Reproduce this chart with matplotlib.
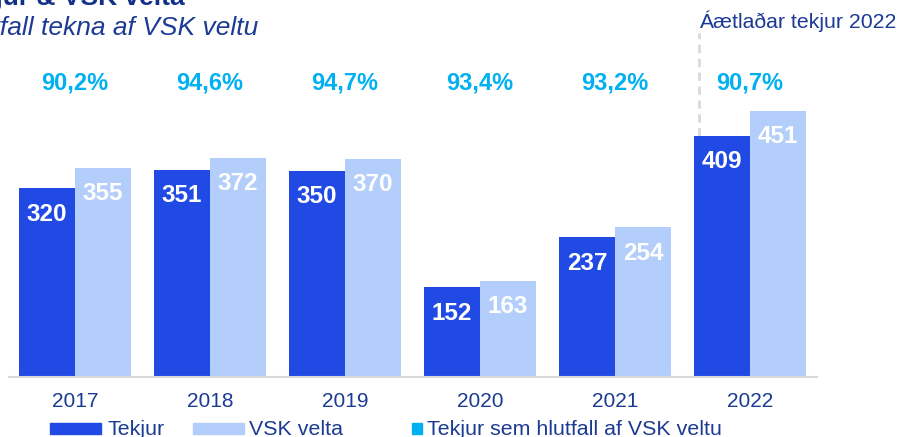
import matplotlib.pyplot as plt
from matplotlib.patches import Rectangle

plt.rcParams['font.family'] = ['Liberation Sans', 'DejaVu Sans']

# data
years = ['2017', '2018', '2019', '2020', '2021', '2022']
tekjur = [320, 351, 350, 152, 237, 409]
vsk_velta = [355, 372, 370, 163, 254, 451]
hlutfall = ['90,2%', '94,6%', '94,7%', '93,4%', '93,2%', '90,7%']

dark = '#204AE3'
light = '#B4CEFB'
cyan = '#00B0F0'
navy = '#1B3A94'

W, H = 901, 437
fig = plt.figure(figsize=(W / 100, H / 100), dpi=100)

# axes fills the picture above the baseline (px 377 from top)
base_px = 377
ax = fig.add_axes([0, (H - base_px) / H, 1, base_px / H])
pitch = 135.0          # px between groups
unit = 0.59            # px per value unit
ax.set_xlim(-75 / pitch, (W - 75) / pitch)
ax.set_ylim(0, base_px / unit)
for s in ax.spines.values():
    s.set_visible(False)
ax.set_yticks([])

x = list(range(len(years)))
bw = 56 / pitch
ax.bar([i - bw / 2 for i in x], tekjur, width=bw, color=dark)
ax.bar([i + bw / 2 for i in x], vsk_velta, width=bw, color=light)
ax.hlines(0, -0.5, 5.5, color='#D9D9D9', lw=1.5, clip_on=False)

for i in x:
    ax.annotate(str(tekjur[i]), (i - bw / 2, tekjur[i]), xytext=(0, -18.7),
                textcoords='offset points', ha='center', va='center',
                color='white', fontsize=17.5, fontweight='bold')
    ax.annotate(str(vsk_velta[i]), (i + bw / 2, vsk_velta[i]), xytext=(0, -18.7),
                textcoords='offset points', ha='center', va='center',
                color='white', fontsize=17.5, fontweight='bold')
    ax.text(i, (base_px - 83) / unit, hlutfall[i], ha='center', va='center',
            color=cyan, fontsize=17, fontweight='bold')

ax.set_xticks(x)
ax.set_xticklabels(years, fontsize=15, color=navy)
ax.tick_params(axis='x', length=0, pad=11)

# forecast marker for 2022
xl = 5 - bw + 0.04
ax.plot([xl, xl], [tekjur[5], (base_px - 33) / unit], color='#D9D9D9', lw=2,
        linestyle=(0, (3, 2)), clip_on=False, zorder=0)
ax.text(xl - 0.005, (base_px - 28) / unit, 'Áætlaðar tekjur 2022', ha='left',
        va='baseline', color=navy, fontsize=15.3)

# title and subtitle (cropped at the edge in the original)
fig.text(185 / W, 1 - 5 / H, 'Tekjur & VSK velta', ha='right', va='baseline',
         fontsize=19, fontweight='bold', color='#12308A')
fig.text(258 / W, 1 - 35 / H, 'Hlutfall tekna af VSK veltu', ha='right',
         va='baseline', fontsize=19, style='italic', color=navy)

# legend
legend_items = [(50, 51, dark, 107, 'Tekjur'),
                (193, 51, light, 249, 'VSK velta'),
                (412, 10, cyan, 427, 'Tekjur sem hlutfall af VSK veltu')]
for px0, pw, col, tx, label in legend_items:
    fig.add_artist(Rectangle((px0 / W, 1 - 434 / H), pw / W, 11 / H,
                             transform=fig.transFigure, color=col))
    fig.text(tx / W, 1 - 435 / H, label, ha='left', va='baseline',
             fontsize=15.4, color=navy)

fig.savefig('out.png', dpi=100)
